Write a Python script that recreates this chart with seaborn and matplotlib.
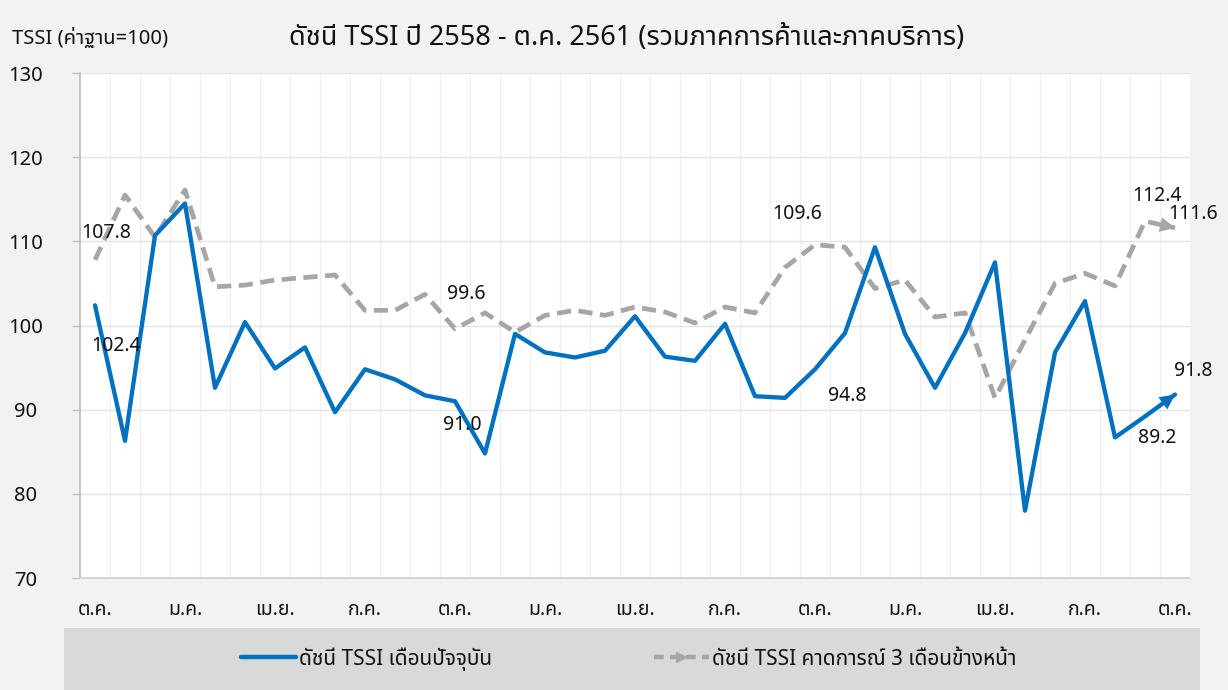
import numpy as np
import pandas as pd
import matplotlib
matplotlib.use("Agg")
import matplotlib.pyplot as plt
from matplotlib import font_manager
from matplotlib.ft2font import FT2Font
from matplotlib.patches import Rectangle
from matplotlib.lines import Line2D
import seaborn as sns

# ---------------- data ----------------
month_labels = ["ต.ค.", "ม.ค.", "เม.ย.", "ก.ค.", "ต.ค.", "ม.ค.", "เม.ย.",
                "ก.ค.", "ต.ค.", "ม.ค.", "เม.ย.", "ก.ค.", "ต.ค."]
current_idx = [102.4, 86.3, 110.7, 114.5, 92.6, 100.4, 94.9, 97.4, 89.7, 94.8,
               93.6, 91.7, 91.0, 84.8, 99.0, 96.8, 96.2, 97.0, 101.1, 96.3,
               95.8, 100.2, 91.6, 91.4, 94.8, 99.1, 109.3, 99.0, 92.6, 99.1,
               107.5, 78.0, 96.8, 102.9, 86.7, 89.2, 91.8]
expect_idx = [107.8, 115.5, 110.5, 116.1, 104.6, 104.8, 105.4, 105.7, 106.0, 101.8,
              101.8, 103.7, 99.6, 101.5, 99.2, 101.2, 101.8, 101.2, 102.2, 101.6,
              100.3, 102.2, 101.5, 106.9, 109.6, 109.3, 104.4, 105.4, 101.0, 101.5,
              91.4, 98.3, 105.0, 106.2, 104.7, 112.4, 111.6]
labelled = [0, 12, 24, 35, 36]
series_names = ["ดัชนี TSSI เดือนปัจจุบัน", "ดัชนี TSSI คาดการณ์ 3 เดือนข้างหน้า"]
title = "ดัชนี TSSI ปี 2558 - ต.ค. 2561 (รวมภาคการค้าและภาคบริการ)"
ylabel = "TSSI (ค่าฐาน=100)"

# ---------------- fonts ----------------
def find_thai_font():
    prefs = ["Noto Sans Thai", "Noto Sans Thai UI", "Leelawadee UI", "Tahoma",
             "Loma", "Garuda", "Sarabun", "Noto Serif Thai"]
    found = {}
    for f in font_manager.fontManager.ttflist:
        try:
            cm = FT2Font(f.fname).get_charmap()
        except Exception:
            continue
        if 0x0E14 in cm and 0x0E0A in cm:
            found.setdefault(f.name, f.fname)
    for p in prefs:
        if p in found:
            return p
    return next(iter(found)) if found else None

sns.set_theme(style="white")
thai = find_thai_font()
fam = ([thai] if thai else []) + ["DejaVu Sans"]
plt.rcParams["font.family"] = fam

BLUE = "#0070C0"
GRAY = "#A6A6A6"
BG = "#F2F2F2"
TXT = "#111111"
DASH = (0, (3.0, 1.6))

fig = plt.figure(figsize=(12.28, 6.9), dpi=100, facecolor=BG)
ax = fig.add_axes([80 / 1228, 112 / 690, 1110 / 1228, 505 / 690])
ax.set_facecolor("white")

n = len(current_idx)
df = pd.DataFrame({"i": np.arange(n), "cur": current_idx, "exp": expect_idx})

sns.lineplot(data=df, x="i", y="exp", ax=ax, color=GRAY, linewidth=3.4,
             linestyle=DASH, legend=False, zorder=3)
sns.lineplot(data=df, x="i", y="cur", ax=ax, color=BLUE, linewidth=3.1,
             legend=False, zorder=4)

# arrow heads at the last points
for vals, col, z in [(expect_idx, GRAY, 3), (current_idx, BLUE, 4)]:
    ax.annotate("", xy=(n - 1, vals[-1]), xytext=(n - 2, vals[-2]),
                arrowprops=dict(arrowstyle="-|>,head_length=0.9,head_width=0.45",
                                color=col, lw=0, shrinkA=0, shrinkB=0),
                zorder=z + 1)

ax.set_xlim(-0.5, n - 0.5)
ax.set_ylim(70, 130)
ax.set_xticks(np.arange(0, n, 3))
ax.set_xticklabels(month_labels, fontsize=14, color=TXT)
ax.set_yticks(np.arange(70, 131, 10))
ax.set_yticklabels([str(v) for v in range(70, 131, 10)], fontsize=14.5, color=TXT)
ax.set_xlabel("")
ax.set_ylabel("")

# grid
for y in range(80, 131, 10):
    ax.axhline(y, color="#E3E3E3", lw=1.0, zorder=1)
for k in range(n + 1):
    ax.axvline(k - 0.5, color="#F0F0F0", lw=0.9, zorder=0.5)

for s in ["top", "right"]:
    ax.spines[s].set_visible(False)
ax.spines["left"].set_color("#BFBFBF")
ax.spines["bottom"].set_color("#D0D0D0")
ax.spines["bottom"].set_linestyle((0, (1, 1)))
ax.tick_params(axis="y", which="major", left=True, length=6, color="#BFBFBF",
               pad=33, width=1)
ax.tick_params(axis="x", which="major", bottom=False, pad=10)
for t in ax.get_yticklabels():
    t.set_horizontalalignment("center")

# data labels (offsets in pixels)
cur_off = {0: (21, -41), 12: (7, -24), 24: (32, -27), 35: (12, -22), 36: (18, 24)}
exp_off = {0: (11, 27), 12: (11, 35), 24: (-18, 31), 35: (12, 25), 36: (18, 14)}
for i in labelled:
    ax.annotate(f"{current_idx[i]:.1f}", xy=(i, current_idx[i]),
                xytext=cur_off[i], textcoords="offset pixels",
                ha="center", va="center", fontsize=14, color=TXT, zorder=6)
    ax.annotate(f"{expect_idx[i]:.1f}", xy=(i, expect_idx[i]),
                xytext=exp_off[i], textcoords="offset pixels",
                ha="center", va="center", fontsize=14, color=TXT, zorder=6)

# titles
fig.text(627 / 1228, 1 - 38 / 690, title, ha="center", va="center",
         fontsize=19.5, color=TXT, fontweight="medium")
fig.text(12 / 1228, 1 - 38 / 690, ylabel, ha="left", va="center",
         fontsize=14.5, color=TXT)

# legend box
fig.patches.append(Rectangle((64 / 1228, 0), (1200 - 64) / 1228, 62 / 690,
                             transform=fig.transFigure, facecolor="#D9D9D9",
                             edgecolor="none", zorder=0))
handles = [Line2D([], [], color=BLUE, lw=3.2),
           Line2D([], [], color=GRAY, lw=3.2, linestyle=(0, (2.2, 1.4)),
                  marker=">", markevery=[-1], markersize=7)]
leg = fig.legend(handles, series_names, loc="center", ncol=2,
                 bbox_to_anchor=(0.512, 31 / 690), frameon=False,
                 fontsize=15, handlelength=2.6, handletextpad=0.15,
                 columnspacing=7.8)
for t in leg.get_texts():
    t.set_color(TXT)

fig.savefig("out.png", dpi=100, facecolor=BG)
